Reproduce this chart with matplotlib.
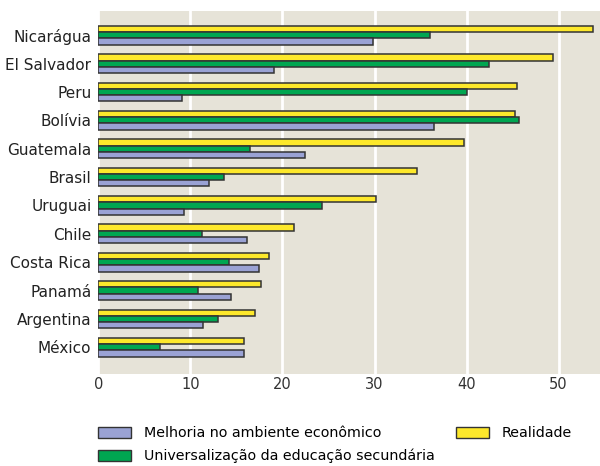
import matplotlib
matplotlib.use("Agg")
import matplotlib.pyplot as plt
import numpy as np
from matplotlib.patches import Patch

plt.rcParams['font.family'] = ['DejaVu Sans']

# data, top to bottom as shown in the chart
countries = ["Nicarágua", "El Salvador", "Peru", "Bolívia", "Guatemala", "Brasil",
             "Uruguai", "Chile", "Costa Rica", "Panamá", "Argentina", "México"]
realidade = [53.7, 49.4, 45.5, 45.3, 39.7, 34.6, 30.2, 21.3, 18.5, 17.7, 17.0, 15.8]
educacao = [36.0, 42.4, 40.1, 45.7, 16.5, 13.7, 24.3, 11.3, 14.2, 10.8, 13.0, 6.7]
economico = [29.8, 19.1, 9.1, 36.5, 22.4, 12.0, 9.3, 16.2, 17.5, 14.4, 11.4, 15.8]

labels = ["Melhoria no ambiente econômico",
          "Universalização da educação secundária",
          "Realidade"]
c_econ = "#9aa2d4"
c_edu = "#00a651"
c_real = "#fde82b"
edge = "#333333"

fig = plt.figure(figsize=(6, 4.66), dpi=100)
ax = fig.add_axes([0.164, 0.197, 0.836, 0.779])
ax.set_facecolor("#e6e3d8")

y = np.arange(len(countries))[::-1]
h = 0.22
ax.barh(y + h, realidade, height=h, color=c_real, edgecolor=edge, linewidth=1.1, zorder=3)
ax.barh(y, educacao, height=h, color=c_edu, edgecolor=edge, linewidth=1.1, zorder=3)
ax.barh(y - h, economico, height=h, color=c_econ, edgecolor=edge, linewidth=1.1, zorder=3)

ax.set_xlim(0, 54.5)
ax.set_ylim(-0.95, 11.85)
ax.set_yticks(y)
ax.set_yticklabels(countries, fontsize=11)
ax.set_xticks([0, 10, 20, 30, 40, 50])
ax.tick_params(axis='x', labelsize=10.5, length=0, pad=2, colors='#333333')
ax.tick_params(axis='y', length=0, pad=5, colors='#222222')
for s in ax.spines.values():
    s.set_visible(False)
ax.grid(axis='x', color='white', linewidth=2, zorder=1)
ax.set_axisbelow(True)

handles = [Patch(facecolor=c_econ, edgecolor=edge),
           Patch(facecolor=c_edu, edgecolor=edge),
           Patch(facecolor=c_real, edgecolor=edge)]
kw = dict(frameon=False, fontsize=10.3, handlelength=2.3, handleheight=0.9,
          labelspacing=0.6, handletextpad=0.9, borderpad=0, borderaxespad=0)
fig.legend(handles[:2], labels[:2], loc='upper left', bbox_to_anchor=(0.163, 0.085), **kw)
fig.legend(handles[2:], labels[2:], loc='upper left', bbox_to_anchor=(0.76, 0.085), **kw)

fig.savefig("out.png", dpi=100)
